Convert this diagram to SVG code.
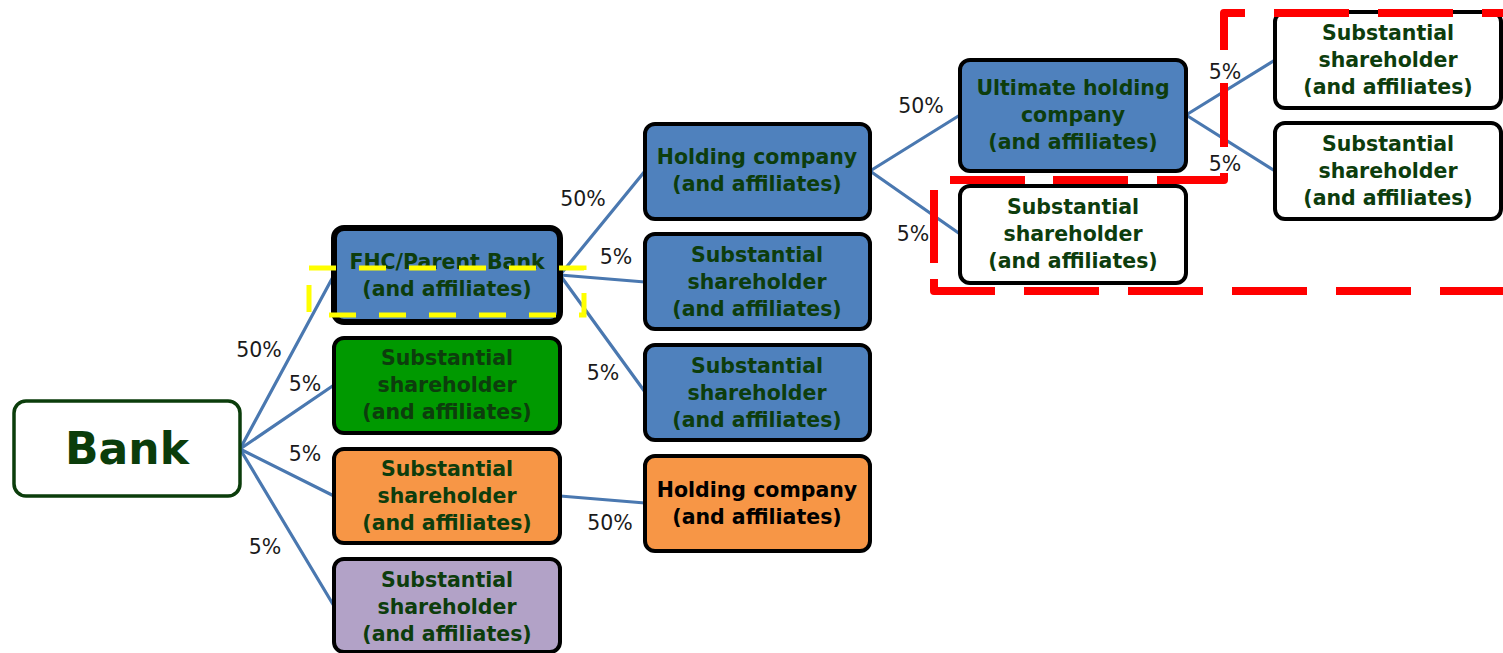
<svg xmlns="http://www.w3.org/2000/svg" width="1503" height="653" viewBox="0 0 1503 653">
<style>
.n{stroke:#000;stroke-width:4}
.blue{fill:#4f81bd}
.white{fill:#fff}
.t{font-family:"DejaVu Sans","Liberation Sans",sans-serif;font-weight:bold;font-size:20.5px;fill:#0d3d0d;text-anchor:middle}
.p{font-family:"DejaVu Sans","Liberation Sans",sans-serif;font-size:20.5px;fill:#1a1a1a;text-anchor:middle}
.c line{stroke:#4a78b0;stroke-width:3.2;stroke-linecap:round}
</style>
<rect width="1503" height="653" fill="#fff"/>
<g id="connectors" class="c">
<line x1="240" y1="449" x2="334" y2="275"/>
<line x1="240" y1="449" x2="334" y2="385"/>
<line x1="240" y1="449" x2="334" y2="496"/>
<line x1="240" y1="449" x2="334" y2="606"/>
<line x1="560" y1="275" x2="645" y2="171"/>
<line x1="560" y1="275" x2="645" y2="282"/>
<line x1="560" y1="275" x2="645" y2="392"/>
<line x1="560" y1="496" x2="645" y2="503"/>
<line x1="870" y1="171" x2="960" y2="115"/>
<line x1="870" y1="171" x2="960" y2="234"/>
<line x1="1186" y1="115" x2="1275" y2="60"/>
<line x1="1186" y1="115" x2="1275" y2="171"/>
</g>
<g id="labels">
<text class="p" x="259" y="357">50%</text>
<text class="p" x="305" y="391">5%</text>
<text class="p" x="305" y="461">5%</text>
<text class="p" x="265" y="554">5%</text>
<text class="p" x="583" y="206">50%</text>
<text class="p" x="616" y="264">5%</text>
<text class="p" x="603" y="380">5%</text>
<text class="p" x="610" y="530">50%</text>
<text class="p" x="921" y="113">50%</text>
<text class="p" x="913" y="241">5%</text>
<text class="p" x="1225" y="79">5%</text>
<text class="p" x="1225" y="171">5%</text>
</g>
<g id="bank">
<rect x="14" y="401" width="226" height="95" rx="12" fill="#fff" stroke="#0b3d0b" stroke-width="3.5"/>
<text x="127" y="464" font-family="DejaVu Sans, Liberation Sans, sans-serif" font-weight="bold" font-size="44" fill="#0b3d0b" text-anchor="middle">Bank</text>
</g>
<g id="fhc">
<rect class="blue" x="334" y="228" width="226" height="94" rx="10" stroke="#000" stroke-width="6"/>
<text class="t" x="447" y="269">FHC/Parent Bank</text>
<text class="t" x="447" y="296">(and affiliates)</text>
</g>
<g id="ss-green">
<rect class="n" x="334" y="338" width="226" height="95" rx="10" fill="#009900"/>
<text class="t" x="447" y="365">Substantial</text>
<text class="t" x="447" y="392">shareholder</text>
<text class="t" x="447" y="419">(and affiliates)</text>
</g>
<g id="ss-orange">
<rect class="n" x="334" y="449" width="226" height="94" rx="10" fill="#f79646"/>
<text class="t" x="447" y="476">Substantial</text>
<text class="t" x="447" y="503">shareholder</text>
<text class="t" x="447" y="530">(and affiliates)</text>
</g>
<g id="ss-purple">
<rect class="n" x="334" y="559" width="226" height="93" rx="10" fill="#b2a2c7"/>
<text class="t" x="447" y="587">Substantial</text>
<text class="t" x="447" y="614">shareholder</text>
<text class="t" x="447" y="641">(and affiliates)</text>
</g>
<g id="holding">
<rect class="n blue" x="645" y="124" width="225" height="95" rx="10"/>
<text class="t" x="757" y="164">Holding company</text>
<text class="t" x="757" y="191">(and affiliates)</text>
</g>
<g id="ss-blue-1">
<rect class="n blue" x="645" y="234" width="225" height="95" rx="10"/>
<text class="t" x="757" y="262">Substantial</text>
<text class="t" x="757" y="289">shareholder</text>
<text class="t" x="757" y="316">(and affiliates)</text>
</g>
<g id="ss-blue-2">
<rect class="n blue" x="645" y="345" width="225" height="95" rx="10"/>
<text class="t" x="757" y="373">Substantial</text>
<text class="t" x="757" y="400">shareholder</text>
<text class="t" x="757" y="427">(and affiliates)</text>
</g>
<g id="holding-orange">
<rect class="n" x="645" y="456" width="225" height="95" rx="10" fill="#f79646"/>
<text class="t" x="757" y="497" style="fill:#000">Holding company</text>
<text class="t" x="757" y="524" style="fill:#000">(and affiliates)</text>
</g>
<g id="ultimate">
<rect class="n blue" x="960" y="60" width="226" height="111" rx="10"/>
<text class="t" x="1073" y="95">Ultimate holding</text>
<text class="t" x="1073" y="122">company</text>
<text class="t" x="1073" y="149">(and affiliates)</text>
</g>
<g id="ss-white-1">
<rect class="n white" x="960" y="186" width="226" height="97" rx="10"/>
<text class="t" x="1073" y="214">Substantial</text>
<text class="t" x="1073" y="241">shareholder</text>
<text class="t" x="1073" y="268">(and affiliates)</text>
</g>
<g id="ss-white-2">
<rect class="n white" x="1275" y="12" width="226" height="96" rx="10"/>
<text class="t" x="1388" y="40">Substantial</text>
<text class="t" x="1388" y="67">shareholder</text>
<text class="t" x="1388" y="94">(and affiliates)</text>
</g>
<g id="ss-white-3">
<rect class="n white" x="1275" y="123" width="226" height="96" rx="10"/>
<text class="t" x="1388" y="151">Substantial</text>
<text class="t" x="1388" y="178">shareholder</text>
<text class="t" x="1388" y="205">(and affiliates)</text>
</g>
<g id="highlights" fill="none">
<rect x="309" y="268" width="275" height="47" stroke="#ffff00" stroke-width="5" stroke-dasharray="27 23"/>
<path d="M1503,13 H1224 V180 H934 V291 H1503" stroke="#ff0000" stroke-width="8" stroke-linejoin="round" stroke-dasharray="21 29 75 29 75 29 58 33 64 26 74 29 75 28 75 26 73 16 73 29 75 29 75 29 75 29 75 29 100 50"/>
</g>
</svg>
